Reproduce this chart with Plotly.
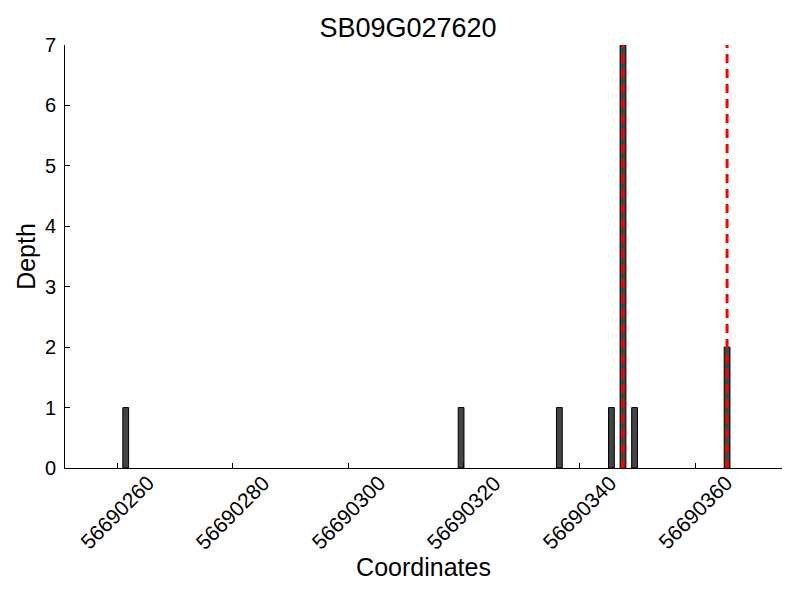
import plotly.graph_objects as go

# Datos de cobertura
coords = [56690261, 56690319, 56690336, 56690345, 56690347, 56690349, 56690365]
depth = [1, 1, 1, 1, 7, 1, 2]
snp_pos = [56690347.5, 56690365.5]
x_ticks = [56690260, 56690280, 56690300, 56690320, 56690340, 56690360]

fig = go.Figure()
fig.add_trace(go.Bar(
	x=coords, y=depth, width=1, offset=0,
	marker=dict(color='#444444', line=dict(color='black', width=1)),
))

for p in snp_pos:
	fig.add_trace(go.Scatter(
		x=[p, p], y=[0, 7], mode='lines',
		line=dict(color='red', width=3, dash='9px,6px'),
	))

# Etiquetas del eje x centradas en cada tick (estilo matplotlib)
for t in x_ticks:
	fig.add_annotation(
		x=t, xref='x', y=-0.106, yref='paper', text=str(t), showarrow=False,
		textangle=-45, xanchor='center', yanchor='middle', font=dict(size=21),
	)

# La pagina tiene 8px de margen en el body: compensamos en los margenes
fig.update_layout(
	title=dict(text="SB09G027620", x=0.5, xanchor='center', y=0.967, yanchor='middle',
		font=dict(size=27, color='black')),
	width=800, height=600,
	margin=dict(l=57, r=26, t=37, b=140),
	plot_bgcolor='white', paper_bgcolor='white',
	font=dict(family="Liberation Sans", color='black'),
	showlegend=False,
)
fig.update_xaxes(
	range=[56690251, 56690375], tickvals=x_ticks, showticklabels=False,
	ticks='inside', ticklen=5, tickcolor='black', automargin=False,
	showline=True, linecolor='black', linewidth=1, showgrid=False, zeroline=False,
	title=dict(text="Coordinates", font=dict(size=25), standoff=90),
)
fig.update_yaxes(
	range=[0, 7], dtick=1, ticks='inside', ticklen=5, tickcolor='black', automargin=False,
	showline=True, linecolor='black', linewidth=1, showgrid=False, zeroline=False,
	ticklabelstandoff=4,
	tickfont=dict(size=20), title=dict(text="Depth", font=dict(size=25), standoff=2),
)

fig.write_html("out.html")
